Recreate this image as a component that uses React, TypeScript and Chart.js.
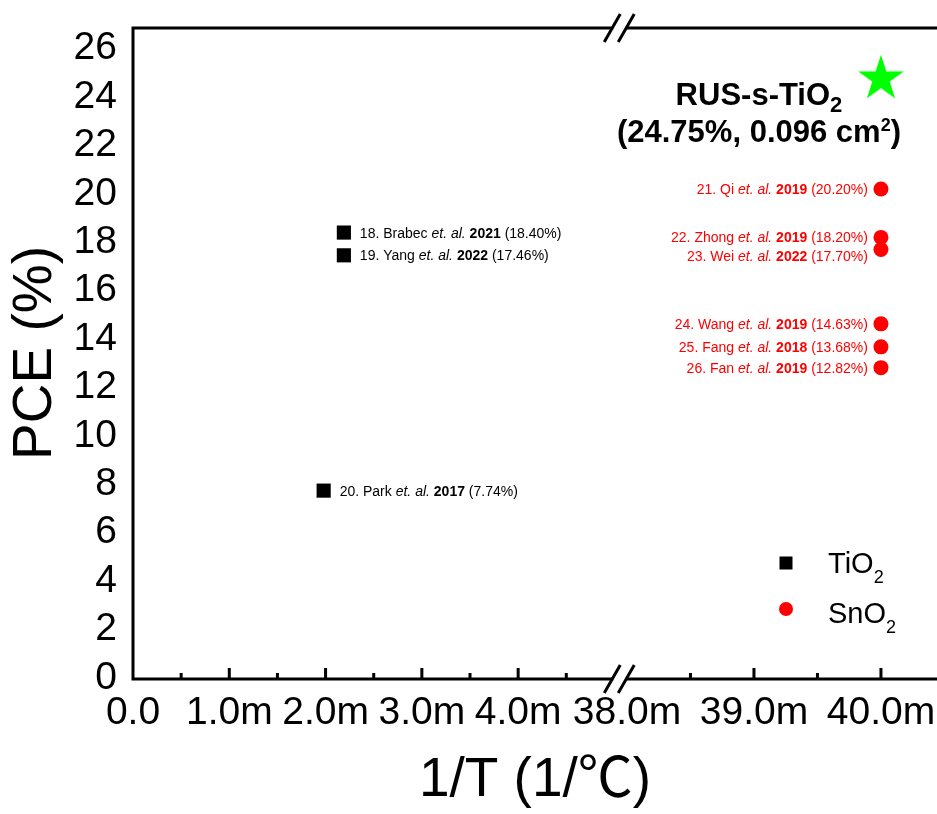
import { useEffect, useRef } from 'react';
import { Chart, registerables } from 'chart.js';

Chart.register(...registerables);

// ---------- data (1/T in units of 1e-3 /°C, PCE in %) ----------
const tio2InvT = [2.19, 2.19, 1.98];
const tio2PCE = [18.4, 17.46, 7.74];
const tio2Authors = ['18. Brabec', '19. Yang', '20. Park'];
const tio2Years = ['2021', '2022', '2017'];

const sno2InvT = [40, 40, 40, 40, 40, 40];
const sno2PCE = [20.2, 18.2, 17.7, 14.63, 13.68, 12.82];
const sno2Authors = ['21. Qi', '22. Zhong', '23. Wei', '24. Wang', '25. Fang', '26. Fan'];
const sno2Years = ['2019', '2019', '2022', '2019', '2018', '2019'];

const rusInvT = [40];
const rusPCE = [24.75];
const rusName = 'RUS-s-TiO';
const rusArea = '0.096';

const xTickValues = [0, 1, 2, 3, 4, 38, 39, 40];
const xMajorMarks = [1, 2, 3, 4, 39, 40];
const xMinorMarks = [0.5, 1.5, 2.5, 3.5, 4.5, 38.5, 39.5];
const yMin = 0;
const yMax = 26.85;
const yStep = 2;

// ---------- broken axis mapping ----------
const BREAK_TO = 38;
const RIGHT_START_U = 5.13;
const RIGHT_STRETCH = 1.319;
const BREAK_U = 5.05;
const X_MAX_U = 8.35;
const toU = (v: number) => (v < BREAK_TO ? v : RIGHT_START_U + (v - BREAK_TO) * RIGHT_STRETCH);
const fromU = (u: number) => (u < RIGHT_START_U - 0.01 ? u : BREAK_TO + (u - RIGHT_START_U) / RIGHT_STRETCH);

const FAMILY = '"Liberation Sans", Arial, "Noto Sans CJK SC", sans-serif';
const TITLE_FAMILY = '"Liberation Sans", Arial, "Noto Sans CJK JP", sans-serif';

function makeStar(R: number, color: string) {
  const c = document.createElement('canvas');
  const s = Math.ceil(R * 2 + 2);
  c.width = s;
  c.height = s;
  const ctx = c.getContext('2d')!;
  ctx.fillStyle = color;
  ctx.beginPath();
  for (let k = 0; k < 10; k++) {
    const r = k % 2 === 0 ? R : R * 0.382;
    const a = -Math.PI / 2 + (k * Math.PI) / 5;
    ctx.lineTo(s / 2 + r * Math.cos(a), s / 2 + r * Math.sin(a));
  }
  ctx.closePath();
  ctx.fill();
  return c;
}

type Seg = { text: string; font: string; dy?: number; w?: number };

function drawSegs(ctx: CanvasRenderingContext2D, segs: Seg[], x: number, y: number, align: 'left' | 'right' | 'center') {
  let total = 0;
  segs.forEach((s) => {
    ctx.font = s.font;
    s.w = ctx.measureText(s.text).width;
    total += s.w;
  });
  let cx = align === 'right' ? x - total : align === 'center' ? x - total / 2 : x;
  ctx.textAlign = 'left';
  ctx.textBaseline = 'alphabetic';
  segs.forEach((s) => {
    ctx.font = s.font;
    ctx.fillText(s.text, cx, y + (s.dy || 0));
    cx += s.w || 0;
  });
}

function refSegs(author: string, year: string, pce: number): Seg[] {
  const n = `14px ${FAMILY}`;
  return [
    { text: author + ' ', font: n },
    { text: 'et. al.', font: `italic 14px ${FAMILY}` },
    { text: ' ', font: n },
    { text: year, font: `bold 14px ${FAMILY}` },
    { text: ' (' + pce.toFixed(2) + '%)', font: n },
  ];
}

const framePlugin = {
  id: 'frame',
  beforeDatasetsDraw(chart: any) {
    const { ctx, chartArea } = chart;
    const xs = chart.scales.x;
    const { left, right, top, bottom } = chartArea;
    const bx = xs.getPixelForValue(BREAK_U);
    ctx.save();
    ctx.strokeStyle = '#000';
    ctx.lineWidth = 3;
    ctx.lineCap = 'butt';
    ctx.beginPath();
    ctx.moveTo(left, top - 1.5);
    ctx.lineTo(left, bottom + 2.5);
    ctx.moveTo(left - 1.5, bottom + 1);
    ctx.lineTo(right, bottom + 1);
    ctx.moveTo(left - 1.5, top);
    ctx.lineTo(right, top);
    ctx.stroke();
    ctx.beginPath();
    xMajorMarks.forEach((v) => {
      const px = xs.getPixelForValue(toU(v));
      ctx.moveTo(px, bottom + 1);
      ctx.lineTo(px, bottom - 10);
    });
    xMinorMarks.forEach((v) => {
      const px = xs.getPixelForValue(toU(v));
      ctx.moveTo(px, bottom + 1);
      ctx.lineTo(px, bottom - 5);
    });
    ctx.stroke();
    [top, bottom + 1].forEach((yy) => {
      ctx.fillStyle = '#fff';
      ctx.fillRect(bx - 6, yy - 3, 12, 6);
      ctx.beginPath();
      [-7, 7].forEach((d) => {
        ctx.moveTo(bx + d - 8, yy + 14);
        ctx.lineTo(bx + d + 8, yy - 14);
      });
      ctx.stroke();
    });
    ctx.restore();
  },
  afterDatasetsDraw(chart: any) {
    const { ctx, chartArea } = chart;
    ctx.save();
    const m0 = chart.getDatasetMeta(0).data;
    let prev = -1e9;
    ctx.fillStyle = '#000';
    m0.map((p: any, i: number) => ({ p, i }))
      .sort((a: any, b: any) => a.p.y - b.p.y)
      .forEach(({ p, i }: any) => {
        let y = p.y;
        if (y - prev < 19) y = prev + 19;
        prev = y;
        drawSegs(ctx, refSegs(tio2Authors[i], tio2Years[i], tio2PCE[i]), p.x + 16, y + 5, 'left');
      });
    const m1 = chart.getDatasetMeta(1).data;
    prev = -1e9;
    ctx.fillStyle = '#ff0000';
    m1.map((p: any, i: number) => ({ p, i }))
      .sort((a: any, b: any) => a.p.y - b.p.y)
      .forEach(({ p, i }: any) => {
        let y = p.y;
        if (y - prev < 19) y = prev + 19;
        prev = y;
        drawSegs(ctx, refSegs(sno2Authors[i], sno2Years[i], sno2PCE[i]), p.x - 13, y + 5, 'right');
      });
    const s = chart.getDatasetMeta(2).data[0];
    ctx.fillStyle = '#000';
    const b = `bold 31px ${FAMILY}`;
    drawSegs(ctx, [
      { text: rusName, font: b },
      { text: '2', font: `bold 22px ${FAMILY}`, dy: 7 },
    ], s.x - 122, s.y + 26, 'center');
    drawSegs(ctx, [
      { text: '(' + rusPCE[0].toFixed(2) + '%, ' + rusArea + ' cm', font: b },
      { text: '2', font: `bold 18px ${FAMILY}`, dy: -11 },
      { text: ')', font: b },
    ], s.x - 122, s.y + 63, 'center');
    const lx = chartArea.right - 151;
    const ly1 = chartArea.bottom - 115;
    const ly2 = chartArea.bottom - 69;
    ctx.fillStyle = '#000';
    ctx.fillRect(lx - 6.5, ly1 - 6.5, 13, 13);
    ctx.fillStyle = '#ff0000';
    ctx.beginPath();
    ctx.arc(lx, ly2, 7, 0, Math.PI * 2);
    ctx.fill();
    ctx.fillStyle = '#000';
    const lf = `29px ${FAMILY}`;
    const sf = `18px ${FAMILY}`;
    drawSegs(ctx, [{ text: 'TiO', font: lf }, { text: '2', font: sf, dy: 10 }], lx + 42, ly1 + 10, 'left');
    drawSegs(ctx, [{ text: 'SnO', font: lf }, { text: '2', font: sf, dy: 10 }], lx + 42, ly2 + 14, 'left');
    ctx.restore();
  },
};

export default function App() {
  const ref = useRef<HTMLCanvasElement | null>(null);
  useEffect(() => {
    if (!ref.current) return;
    const star = makeStar(24, '#00ff00');
    const chart = new Chart(ref.current, {
      type: 'scatter',
      data: {
        datasets: [
          {
            label: 'TiO2',
            data: tio2InvT.map((x, i) => ({ x: toU(x), y: tio2PCE[i] })),
            pointStyle: 'rect',
            pointRadius: 10,
            backgroundColor: '#000',
            borderColor: '#000',
            borderWidth: 0,
          },
          {
            label: 'SnO2',
            data: sno2InvT.map((x, i) => ({ x: toU(x), y: sno2PCE[i] })),
            pointStyle: 'circle',
            pointRadius: 7.5,
            backgroundColor: '#ff0000',
            borderColor: '#ff0000',
            borderWidth: 0,
          },
          {
            label: 'RUS-s-TiO2',
            data: rusInvT.map((x, i) => ({ x: toU(x), y: rusPCE[i] })),
            pointStyle: star as any,
            pointRadius: 24,
            backgroundColor: '#00ff00',
            borderWidth: 0,
          },
        ],
      },
      options: {
        animation: false,
        responsive: true,
        maintainAspectRatio: false,
        events: [],
        layout: { autoPadding: false, padding: { top: 28, right: 0, left: 0, bottom: 0 } },
        plugins: { legend: { display: false }, tooltip: { enabled: false }, title: { display: false } },
        scales: {
          x: {
            type: 'linear',
            min: 0,
            max: X_MAX_U,
            grid: { display: false, drawTicks: false },
            border: { display: false },
            afterBuildTicks: (s: any) => {
              s.ticks = xTickValues.map((v) => ({ value: toU(v) }));
            },
            afterFit: (s: any) => {
              s.height = 136;
              s.paddingLeft = 0;
              s.paddingRight = 0;
              s.paddingTop = 0;
              s.paddingBottom = 0;
            },
            ticks: {
              autoSkip: false,
              maxRotation: 0,
              padding: 12,
              color: '#000',
              font: { family: FAMILY, size: 39 },
              callback: (u: any) => {
                const v = fromU(Number(u));
                return Math.abs(v) < 1e-9 ? '0.0' : v.toFixed(1) + 'm';
              },
            },
            title: {
              display: true,
              text: '1/T (1/℃)',
              color: '#000',
              font: { family: TITLE_FAMILY, size: 55 },
              padding: 0,
            },
          },
          y: {
            min: yMin,
            max: yMax,
            grid: { display: false, drawTicks: false },
            border: { display: false },
            afterFit: (s: any) => {
              s.width = 133;
              s.paddingLeft = 0;
              s.paddingRight = 0;
              s.paddingTop = 0;
              s.paddingBottom = 0;
            },
            ticks: {
              stepSize: yStep,
              autoSkip: false,
              includeBounds: false,
              padding: 16,
              color: '#000',
              font: { family: FAMILY, size: 39, lineHeight: 1 },
              callback: (v: any) => String(v),
            },
            title: {
              display: true,
              text: 'PCE (%)',
              color: '#000',
              font: { family: FAMILY, size: 55 },
              padding: { top: 3, bottom: 0 },
            },
          },
        },
      },
      plugins: [framePlugin],
    });
    return () => chart.destroy();
  }, []);
  return (
    <div style={{ position: 'fixed', left: 0, top: 0, width: 937, height: 814, background: '#fff' }}>
      <canvas ref={ref} />
    </div>
  );
}
